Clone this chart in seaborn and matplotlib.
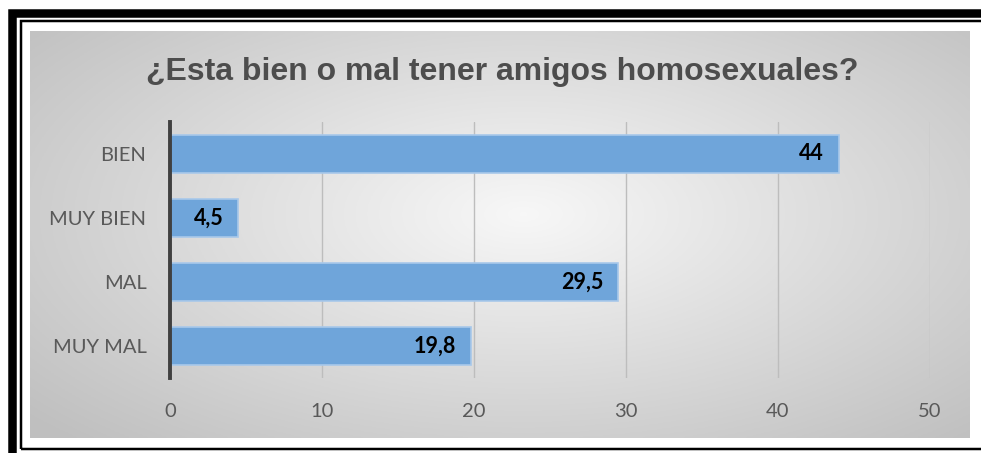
import numpy as np
import pandas as pd
import matplotlib
matplotlib.use("Agg")
import matplotlib.pyplot as plt
from matplotlib.patches import Rectangle
import seaborn as sns

categories = ["BIEN", "MUY BIEN", "MAL", "MUY MAL"]
values = [44, 4.5, 29.5, 19.8]
value_labels = ["44", "4,5", "29,5", "19,8"]
x_ticks = [0, 10, 20, 30, 40, 50]

TITLE = "¿Esta bien o mal tener amigos homosexuales?"
W, H = 981, 453

sns.set_theme(style="white")
plt.rcParams['font.family'] = ['Lato', 'DejaVu Sans']

fig = plt.figure(figsize=(W / 100, H / 100), dpi=100)
fig.patch.set_facecolor("white")


def px_box(x0, y0, x1, y1):
    return [x0 / W, 1 - y1 / H, (x1 - x0) / W, (y1 - y0) / H]


# double black frame (cut off on the right and bottom, like the source)
for (x0, y0, x1, y1, lw) in [(12, 13, 995, 456, 8.5), (20.5, 21, 995, 448.5, 2.5)]:
    fig.patches.append(Rectangle((x0 / W, 1 - y1 / H), (x1 - x0) / W, (y1 - y0) / H,
                                 transform=fig.transFigure, fill=False,
                                 edgecolor="black", linewidth=lw * 0.72, zorder=0))

# gray radial gradient panel
bg = fig.add_axes(px_box(30, 31, 970, 438), zorder=0)
gx, gy = np.meshgrid(np.linspace(-1, 1, 400), np.linspace(-1, 1, 200))
r = np.sqrt(((gx - 0.05) / 1.0) ** 2 + ((gy + 0.1) / 1.1) ** 2)
shade = 0.97 - 0.22 * np.clip(r, 0, 1.4) / 1.4
bg.imshow(np.dstack([shade, shade, shade]), aspect="auto", extent=(0, 1, 0, 1))
bg.set_axis_off()

ax = fig.add_axes(px_box(170, 122, 930, 378), zorder=1)
ax.patch.set_alpha(0)

df = pd.DataFrame({"cat": categories, "val": values})
sns.barplot(data=df, x="val", y="cat", orient="h", color="#6FA5DA", saturation=1,
            width=0.58, edgecolor="#A8C8EA", linewidth=1.2, ax=ax, zorder=3)

for i, (v, lab) in enumerate(zip(values, value_labels)):
    ax.text(v - 1.0, i, lab, ha="right", va="center", fontsize=15.5,
            fontweight="bold", color="black", zorder=4)

ax.set_xlim(0, 50)
ax.set_ylim(3.5, -0.5)
ax.set_xticks(x_ticks)
ax.set_xticklabels([str(t) for t in x_ticks])
ax.grid(axis="x", color="#BDBDBD", linewidth=1)
ax.set_axisbelow(True)
for s in ["top", "right", "bottom"]:
    ax.spines[s].set_visible(False)
ax.spines["left"].set_color("#404040")
ax.spines["left"].set_linewidth(2.8)
ax.spines["left"].set_zorder(5)
ax.tick_params(axis="x", length=0, pad=18, labelsize=14.5, labelcolor="#595959")
ax.tick_params(axis="y", length=0, pad=17, labelsize=14.5, labelcolor="#595959")
ax.set_xlabel("")
ax.set_ylabel("")

fig.text(502 / W, 1 - 72 / H, TITLE, ha="center", va="center", fontsize=23,
         fontweight="bold", color="#4D4D4D", family=["Liberation Sans", "DejaVu Sans"])

fig.savefig("out.png", dpi=100)
